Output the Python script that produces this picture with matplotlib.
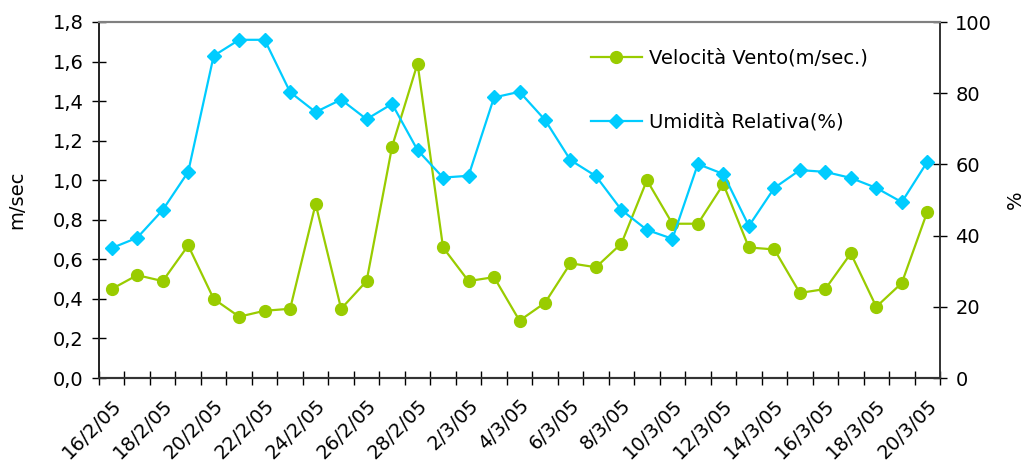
import matplotlib
matplotlib.use("Agg")
import matplotlib.pyplot as plt
import numpy as np

dates = ["16/2/05", "17/2/05", "18/2/05", "19/2/05", "20/2/05", "21/2/05", "22/2/05",
         "23/2/05", "24/2/05", "25/2/05", "26/2/05", "27/2/05", "28/2/05", "1/3/05",
         "2/3/05", "3/3/05", "4/3/05", "5/3/05", "6/3/05", "7/3/05", "8/3/05", "9/3/05",
         "10/3/05", "11/3/05", "12/3/05", "13/3/05", "14/3/05", "15/3/05", "16/3/05",
         "17/3/05", "18/3/05", "19/3/05", "20/3/05"]

vento = [0.45, 0.52, 0.49, 0.67, 0.40, 0.31, 0.34, 0.35, 0.88, 0.35, 0.49,
         1.17, 1.59, 0.66, 0.49, 0.51, 0.29, 0.38, 0.58, 0.56, 0.68, 1.00,
         0.78, 0.78, 0.98, 0.66, 0.65, 0.43, 0.45, 0.63, 0.36, 0.48, 0.84]

umidita = [36.5, 39.4, 47.2, 57.9, 90.5, 95.0, 95.0, 80.3, 74.7, 78.2, 72.7,
           77.0, 64.0, 56.3, 56.8, 78.8, 80.4, 72.5, 61.2, 56.7, 47.2, 41.6,
           39.1, 60.1, 57.3, 42.7, 53.4, 58.4, 57.9, 56.2, 53.4, 49.4, 60.7]

left_ticks = [0.0, 0.2, 0.4, 0.6, 0.8, 1.0, 1.2, 1.4, 1.6, 1.8]
left_labels = ["0,0", "0,2", "0,4", "0,6", "0,8", "1,0", "1,2", "1,4", "1,6", "1,8"]
right_ticks = [0, 20, 40, 60, 80, 100]

green = "#99CC00"
blue = "#00CCFF"
FS = 14

plt.rcParams['font.family'] = ['DejaVu Sans']

fig = plt.figure(figsize=(10.26, 4.66), dpi=100)
ax = fig.add_axes([99/1026, 1 - 378/466, (940-99)/1026, (378-22)/466])
ax2 = ax.twinx()

x = np.arange(len(dates))
l1, = ax.plot(x, vento, color=green, lw=1.6, marker='o', markersize=8.5,
              label="Velocità Vento(m/sec.)", zorder=3)
l2, = ax2.plot(x, umidita, color=blue, lw=1.6, marker='D', markersize=6.8,
               label="Umidità Relativa(%)", zorder=3)

ax.set_xlim(-0.5, len(dates) - 0.5)
ax.set_ylim(0, 1.8)
ax2.set_ylim(0, 100)

ax.set_yticks(left_ticks)
ax.set_yticklabels(left_labels, fontsize=FS)
ax2.set_yticks(right_ticks)
ax2.set_yticklabels([str(t) for t in right_ticks], fontsize=FS)

ax.set_xticks(np.arange(-0.5, len(dates), 1.0))
ax.set_xticklabels([])
ax.set_xticks(x[::2], minor=True)
ax.set_xticklabels(dates[::2], minor=True, rotation=45, ha='right', va='top',
                   rotation_mode='anchor', fontsize=FS)
ax.tick_params(axis='x', which='minor', length=0, pad=13)
ax.tick_params(axis='x', which='major', direction='inout', length=10, width=1)
ax.tick_params(axis='y', direction='inout', length=10, width=1, pad=6)
ax2.tick_params(axis='y', direction='inout', length=10, width=1, pad=6)

for a in (ax, ax2):
    a.spines['top'].set_color('#808080')
    a.spines['top'].set_linewidth(1.5)
    a.spines['bottom'].set_color('#333333')
    a.spines['bottom'].set_linewidth(1.5)
    a.spines['left'].set_color('#222222')
    a.spines['left'].set_linewidth(1.2)
    a.spines['right'].set_color('#333333')
    a.spines['right'].set_linewidth(1.2)

ax.set_ylabel("m/sec", fontsize=FS)
ax.yaxis.set_label_coords(-0.086, 0.5)
ax2.set_ylabel("%", fontsize=FS)
ax2.yaxis.set_label_coords(1.078, 0.5)

leg = ax2.legend([l1, l2], [l1.get_label(), l2.get_label()], loc='upper left',
                 bbox_to_anchor=(0.585, 0.925), frameon=False, fontsize=FS,
                 handlelength=2.6, handletextpad=0.36, labelspacing=2.3,
                 borderaxespad=0, borderpad=0)

fig.savefig("out.png", dpi=100)
